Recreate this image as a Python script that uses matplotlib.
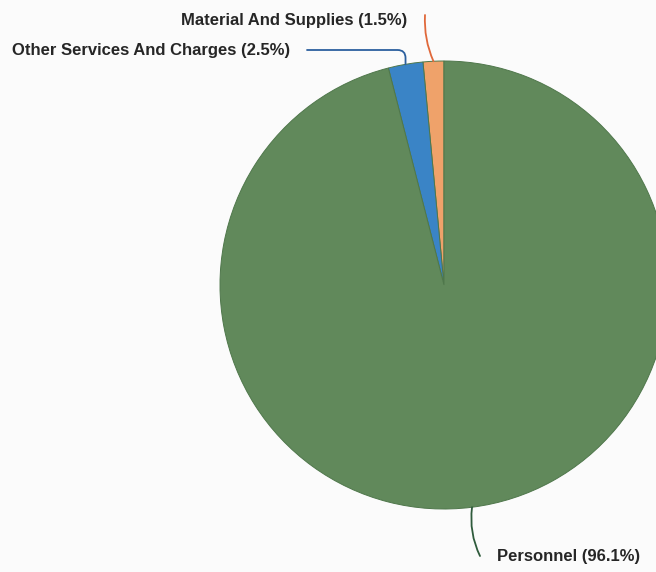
import numpy as np
import matplotlib
matplotlib.use("Agg")
import matplotlib.pyplot as plt

# expenditure shares, in percent
categories = ["Material And Supplies", "Other Services And Charges", "Personnel"]
shares = [1.5, 2.5, 96.1]
colors = ["#efa26a", "#3a84c6", "#61895b"]
line_colors = ["#e0683a", "#2b5f9e", "#2f5b3c"]

W, H = 656, 572
fig = plt.figure(figsize=(W / 100, H / 100), dpi=100)
fig.patch.set_facecolor("#fbfbfb")
ax = fig.add_axes([0, 0, 1, 1])

cx, cy, r = 444, 287, 224
wedges, _ = ax.pie(shares, colors=colors, startangle=90, counterclock=True,
                   center=(cx, cy), radius=r, frame=True,
                   wedgeprops=dict(linewidth=0.7, edgecolor="#4f774b"))
ax.set_xlim(0, W)
ax.set_ylim(0, H)
ax.set_aspect("equal")
ax.axis("off")

# leader line start (text side), label anchor, alignment, curve style
label_pos = [(425, 557, 407, 552, "right", "arc3,rad=0.12"),
             (307, 522, 290, 522, "right", "angle,angleA=0,angleB=90,rad=8"),
             (480, 16, 497, 16, "left", "arc3,rad=-0.15")]

font = dict(family="Liberation Sans", fontweight="bold", fontsize=12, color="#262626")

for w, name, pct, lc, (lx, ly, tx, ty, ha, cs) in zip(wedges, categories, shares,
                                                     line_colors, label_pos):
    mid = np.deg2rad((w.theta1 + w.theta2) / 2)
    px = cx + r * np.cos(mid)
    py = cy + r * np.sin(mid)
    ax.annotate("", xy=(px, py), xytext=(lx, ly),
                arrowprops=dict(arrowstyle="-", color=lc, lw=1.3,
                                connectionstyle=cs, shrinkA=0, shrinkB=0))
    ax.text(tx, ty, f"{name} ({pct}%)", ha=ha, va="center", **font)

fig.savefig("out.png", dpi=100, facecolor=fig.get_facecolor())
